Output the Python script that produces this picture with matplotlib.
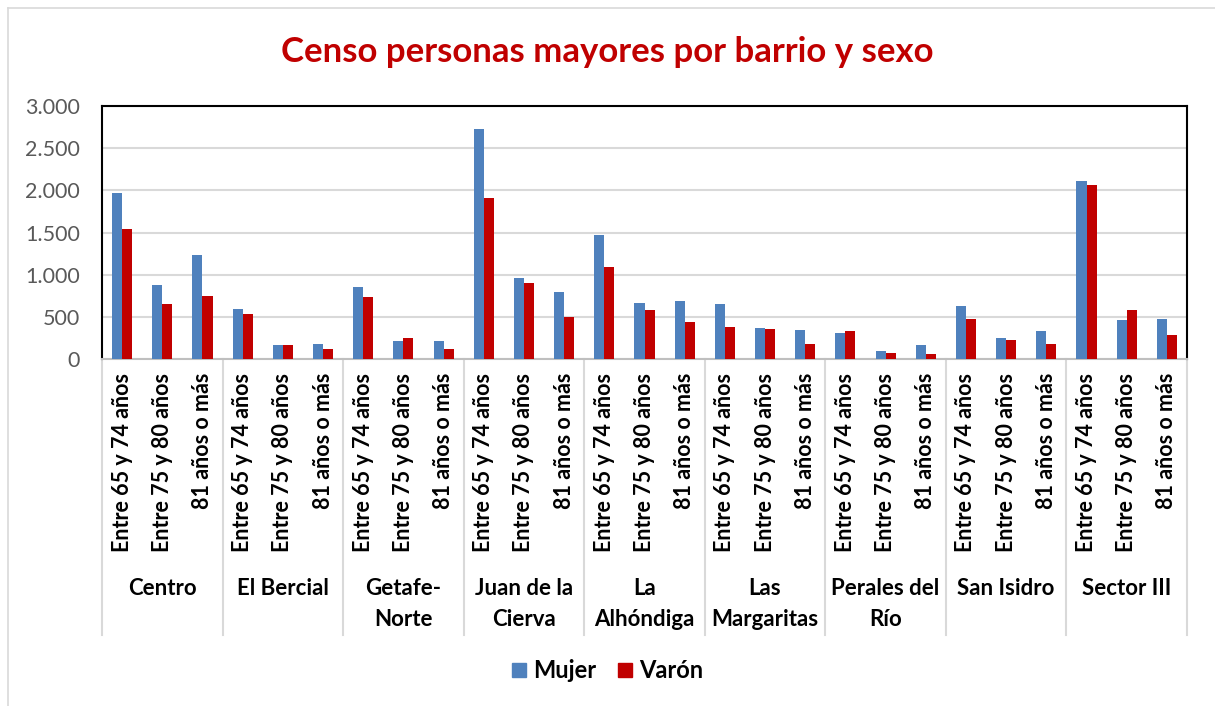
import numpy as np
import matplotlib.pyplot as plt
from matplotlib.lines import Line2D
from matplotlib.ticker import FuncFormatter

plt.rcParams["font.family"] = ["Lato", "DejaVu Sans"]

# data
barrios = ["Centro", "El Bercial", "Getafe-\nNorte", "Juan de la\nCierva",
           "La\nAlhóndiga", "Las\nMargaritas", "Perales del\nRío",
           "San Isidro", "Sector III"]
edades = ["Entre 65 y 74 años", "Entre 75 y 80 años", "81 años o más"]

mujer = [1965, 875, 1228,
         588, 170, 178,
         848, 218, 210,
         2725, 955, 792,
         1465, 661, 686,
         657, 372, 340,
         313, 91, 170,
         633, 253, 329,
         2110, 459, 480]
varon = [1545, 650, 752,
         530, 170, 120,
         740, 253, 123,
         1908, 906, 495,
         1092, 578, 435,
         384, 352, 182,
         329, 67, 63,
         471, 230, 182,
         2062, 578, 289]

blue = "#4F81BD"
red = "#C00000"

fig = plt.figure(figsize=(12.15, 7.06), dpi=100)
ax = fig.add_axes([102 / 1215, 1 - 359 / 706, (1187 - 102) / 1215, (359 - 106) / 706])

n = len(mujer)
x = np.arange(n)
w = 0.25
ax.bar(x - w / 2, mujer, w, color=blue, zorder=3)
ax.bar(x + w / 2, varon, w, color=red, zorder=3)

ax.set_xlim(-0.5, n - 0.5)
ax.set_ylim(0, 3000)
ax.set_yticks(np.arange(0, 3001, 500))
ax.yaxis.set_major_formatter(FuncFormatter(lambda v, p: f"{int(v):,}".replace(",", ".")))
ax.tick_params(axis="y", length=0, labelsize=15.5, labelcolor="#595959", pad=16)
ax.grid(axis="y", color="#D9D9D9", lw=1.5, zorder=0)

ax.set_xticks(x)
ax.set_xticklabels(edades * len(barrios), rotation=90, fontsize=15.5,
                   fontweight="bold", va="top", ha="center")
ax.tick_params(axis="x", length=0, pad=10)

# spines
for s in ["left", "top", "right"]:
    ax.spines[s].set_color("black")
    ax.spines[s].set_linewidth(1.5)
ax.spines["bottom"].set_color("#BFBFBF")
ax.spines["bottom"].set_linewidth(1.5)

# group separators and group labels
trans = ax.get_xaxis_transform()
depth = (635 - 359) / (359 - 106)
for k in range(len(barrios) + 1):
    xb = k * 3 - 0.5
    ax.plot([xb, xb], [0, -depth], transform=trans, color="#D9D9D9",
            lw=1.5, clip_on=False)
for k, b in enumerate(barrios):
    ax.text(k * 3 + 1, -(578 - 359) / (359 - 106), b, transform=trans,
            ha="center", va="top", fontsize=16, fontweight="bold",
            linespacing=1.6)

# title
fig.text(0.5, 1 - 52 / 706, "Censo personas mayores por barrio y sexo",
         ha="center", va="center", fontsize=25, fontweight="bold", color=red)

# legend
handles = [Line2D([], [], ls="", marker="s", markersize=9.5, color=blue, label="Mujer"),
           Line2D([], [], ls="", marker="s", markersize=9.5, color=red, label="Varón")]
fig.legend(handles=handles, loc="center", bbox_to_anchor=(0.5, 1 - 671 / 706),
           ncol=2, frameon=False, prop={"weight": "bold", "size": 17},
           handlelength=0.6, handletextpad=0.3, columnspacing=0.9)

# outer chart border
fig.add_artist(Line2D([8 / 1215, 8 / 1215], [0, 1 - 8 / 706], color="#D9D9D9", lw=1.2))
fig.add_artist(Line2D([8 / 1215, 1], [1 - 8 / 706, 1 - 8 / 706], color="#D9D9D9", lw=1.2))

fig.savefig("out.png", dpi=100)
